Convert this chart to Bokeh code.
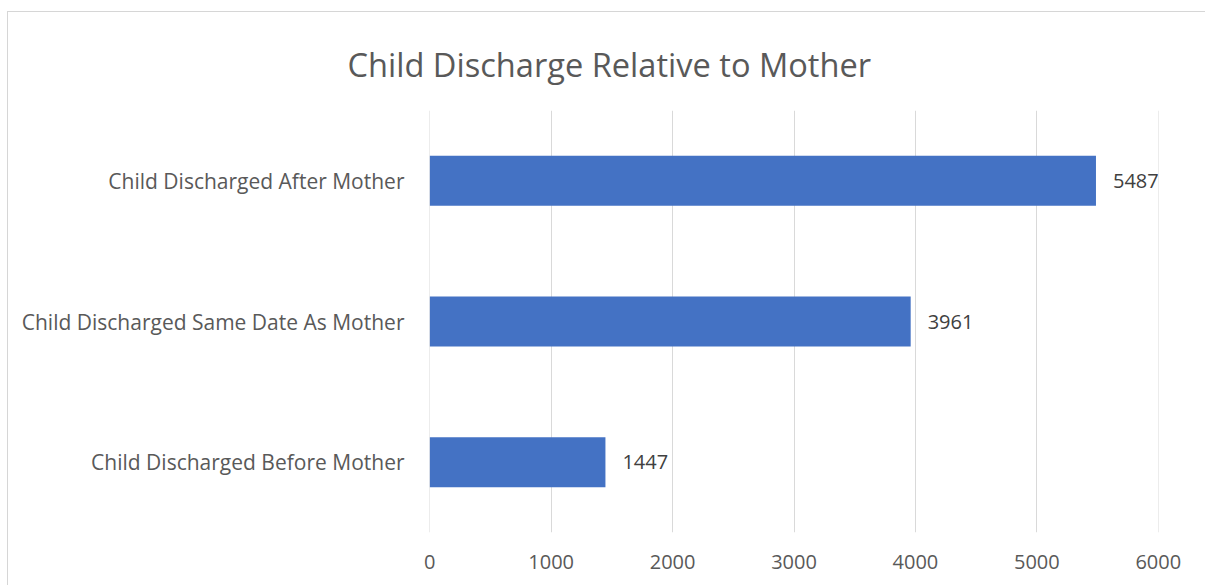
from bokeh.plotting import figure
from bokeh.models import ColumnDataSource, FactorRange, LabelSet, Range1d
from bokeh.core.properties import value
from bokeh.embed import file_html
from bokeh.resources import INLINE

# Discharge timing of the child relative to the mother (counts)
categories = ["Child Discharged Before Mother",
              "Child Discharged Same Date As Mother",
              "Child Discharged After Mother"]
counts = [1447, 3961, 5487]
x_ticks = [0, 1000, 2000, 3000, 4000, 5000, 6000]

FONT = "Open Sans"
AXIS_GREY = "#595959"

source = ColumnDataSource(dict(cat=categories, n=counts, lbl=[str(c) for c in counts]))

# the chart area sits 7px in from the left and 11px down from the top,
# with a thin grey rule along its top and left edges
p = figure(width=1198, height=574,
           y_range=FactorRange(factors=categories),
           x_range=Range1d(-2, 6002),
           output_backend="svg", toolbar_location=None,
           min_border_left=421, min_border_right=48,
           min_border_top=98, min_border_bottom=54)
p.margin = (11, 0, 0, 7)
p.styles = {"border-left": "1px solid #d6d6d6", "border-top": "1px solid #d6d6d6",
            "box-sizing": "border-box"}
p.outline_line_color = None
p.background_fill_color = "white"
p.border_fill_color = "white"

# chart title, centred over the whole chart area rather than the frame
p.title.text = "Child Discharge Relative to Mother"
p.title.align = "left"
p.title.offset = -82
p.title.vertical_align = "top"
p.title.standoff = 43
p.title.text_font = FONT
p.title.text_font_size = "32.6px"
p.title.text_font_style = "normal"
p.title.text_color = AXIS_GREY

p.hbar(y="cat", right="n", left=0, height=0.355, source=source,
       fill_color="#4472C4", line_color=None)

labels = LabelSet(x="n", y="cat", text="lbl", source=source,
                  x_offset=17, text_baseline="middle",
                  text_font=value(FONT), text_font_size="20px", text_color="#404040")
p.add_layout(labels)

# axes
p.xaxis.ticker = x_ticks
p.xaxis.axis_line_color = None
p.xaxis.major_tick_line_color = None
p.xaxis.major_tick_out = 0
p.xaxis.major_tick_in = 0
p.xaxis.minor_tick_line_color = None
p.xaxis.major_label_standoff = 22
p.xaxis.major_label_text_font = FONT
p.xaxis.major_label_text_font_size = "20px"
p.xaxis.major_label_text_color = AXIS_GREY

p.yaxis.axis_line_color = None
p.yaxis.major_tick_line_color = None
p.yaxis.major_tick_out = 0
p.yaxis.major_tick_in = 0
p.yaxis.major_label_standoff = 25
p.yaxis.major_label_text_font = FONT
p.yaxis.major_label_text_font_size = "21px"
p.yaxis.major_label_text_color = AXIS_GREY

p.xgrid.grid_line_color = "#d9d9d9"
p.xgrid.grid_line_width = 1
p.ygrid.grid_line_color = None

open("out.html", "w").write(file_html(p, INLINE))
